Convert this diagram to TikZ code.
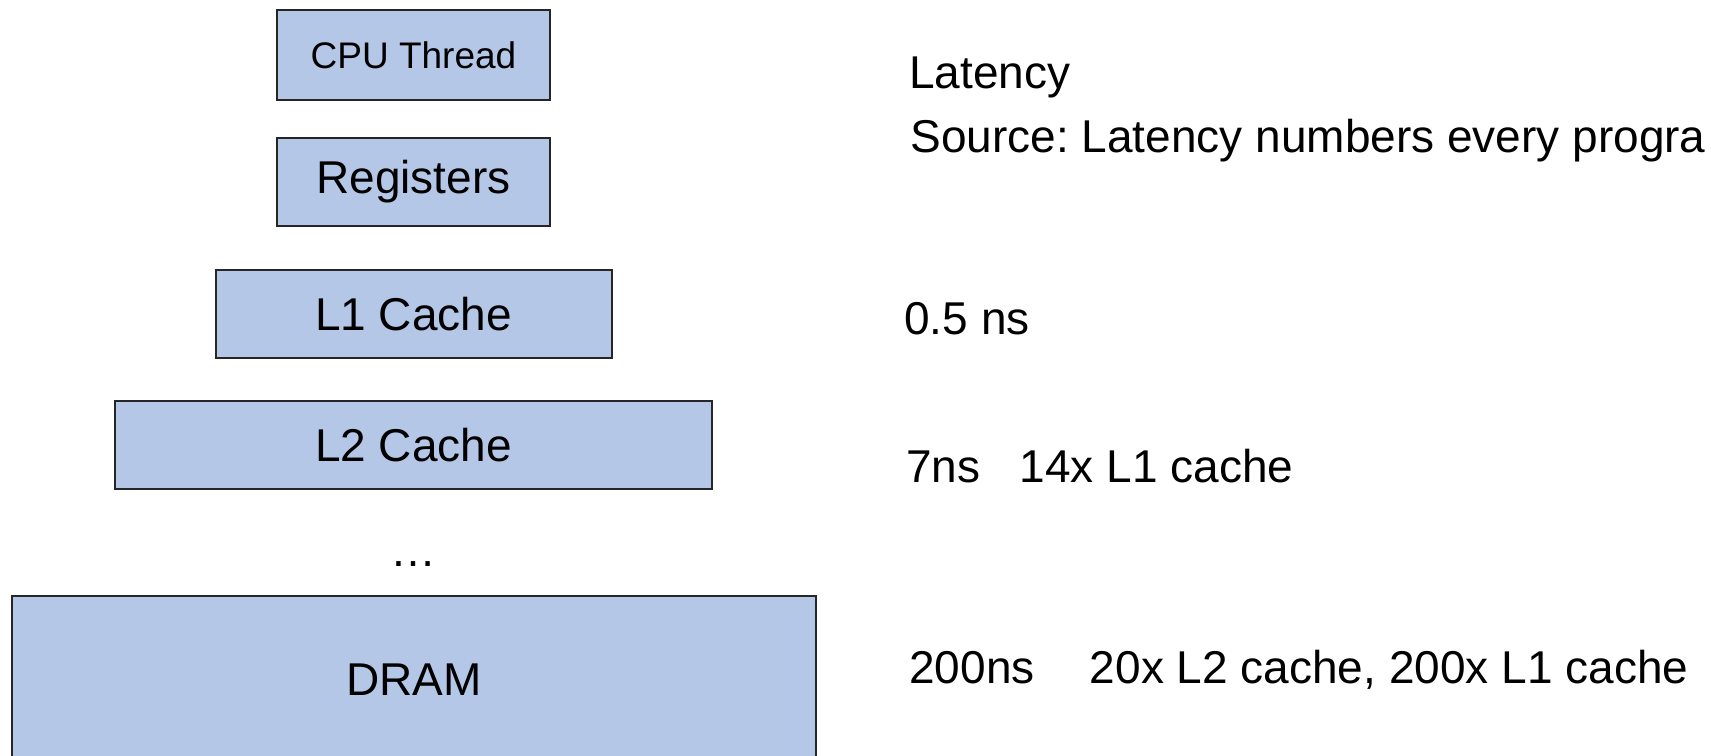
\documentclass[tikz,border=0pt]{standalone}
\usepackage{fontspec}
\setmainfont{Liberation Sans}
\usetikzlibrary{positioning}
\definecolor{cachefill}{HTML}{B4C7E7}
\frenchspacing
\tikzset{
level/.style={draw=black!85, line width=1pt, fill=cachefill, inner sep=0pt, minimum height=44pt, font=\fontsize{23}{27}\selectfont}, % one level of the memory hierarchy
note/.style={anchor=base west, inner sep=0pt, font=\fontsize{23}{27}\selectfont}, % latency text on the right
}

\begin{document}
\begin{tikzpicture}[x=0.5pt, y=-0.5pt]
\clip (0,0) rectangle (1711,755);
\node[level, minimum width=136.5pt, minimum height=45pt, font=\fontsize{18.5}{22}\selectfont] (cpu) at (413.5,55) {CPU Thread};
\node[level, minimum width=136.5pt, below=18pt of cpu] (reg) {Registers};
\node[level, minimum width=198pt, below=21pt of reg] (l1) {L1 Cache};
\node[level, minimum width=298.5pt, below=20.5pt of l1] (l2) {L2 Cache};
\node[anchor=base, inner sep=0pt, font=\fontsize{23}{27}\selectfont] (dots) at (413,566) {…};
\node[level, minimum width=402pt, minimum height=84pt] (dram) at (414,680) {DRAM};

\node[note] (title) at (909,88) {Latency};
\node[note] (source) at (910,152) {Source: Latency numbers every progra};
\node[note] (l1lat) at (904,334) {0.5 ns};
\node[note] (l2lat) at (906,482) {7ns\hspace{0.85em}14x L1 cache};
\node[note] (dramlat) at (909,683) {200ns\hspace{1.2em}20x L2 cache, 200x L1 cache};
\end{tikzpicture}
\end{document}
